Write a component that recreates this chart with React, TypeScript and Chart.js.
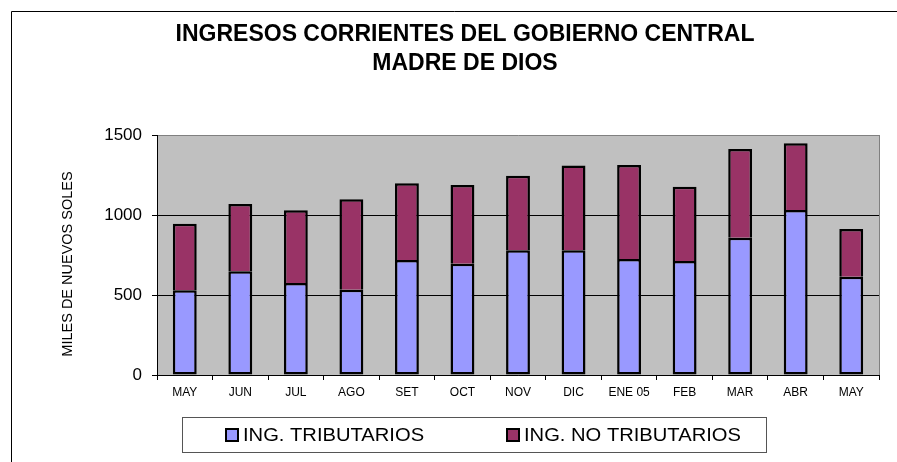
import React, { useEffect, useRef } from "react";
import { Chart, registerables } from "chart.js";

Chart.register(...registerables);

const categories = ["MAY", "JUN", "JUL", "AGO", "SET", "OCT", "NOV", "DIC", "ENE 05", "FEB", "MAR", "ABR", "MAY"];
const tributarios = [529, 648, 575, 533, 719, 696, 779, 779, 725, 712, 858, 1031, 614];
const noTributarios = [416, 421, 454, 565, 479, 491, 467, 531, 587, 465, 554, 417, 298];
const titleLines = ["INGRESOS CORRIENTES DEL GOBIERNO CENTRAL", "MADRE DE DIOS"];
const yTitle = "MILES DE NUEVOS SOLES";
const seriesNames = ["ING. TRIBUTARIOS", "ING. NO TRIBUTARIOS"];
const yMin = 0;
const yMax = 1500;
const yStep = 500;

const FONT = '"Liberation Sans", Arial, sans-serif';
const COL_TRIB = "#9999FF";
const COL_NO = "#993366";

const decor = {
  id: "decor",
  beforeDraw(chart: any) {
    const { ctx, chartArea: a, width, height } = chart;
    ctx.save();
    ctx.fillStyle = "#ffffff";
    ctx.fillRect(0, 0, width, height);
    ctx.fillStyle = "#C0C0C0";
    ctx.fillRect(a.left, a.top, a.right - a.left, a.bottom - a.top);
    ctx.restore();
  },
  afterDraw(chart: any) {
    const { ctx, chartArea: a, width, height } = chart;
    ctx.save();
    // outer frame (left + top)
    ctx.strokeStyle = "#000";
    ctx.lineWidth = 1;
    ctx.beginPath();
    ctx.moveTo(11.5, height);
    ctx.lineTo(11.5, 11.5);
    ctx.lineTo(width, 11.5);
    ctx.stroke();
    // plot right border
    ctx.strokeStyle = "#808080";
    ctx.beginPath();
    ctx.moveTo(Math.round(a.right) + 0.5, a.top);
    ctx.lineTo(Math.round(a.right) + 0.5, a.bottom);
    ctx.stroke();
    // title
    ctx.fillStyle = "#000";
    ctx.textAlign = "center";
    ctx.textBaseline = "alphabetic";
    ctx.font = `bold 23px ${FONT}`;
    ctx.fillText(titleLines[0], 465, 41);
    ctx.fillText(titleLines[1], 465, 70);
    // y title
    ctx.save();
    ctx.translate(68, 264);
    ctx.rotate(-Math.PI / 2);
    ctx.font = `14.5px ${FONT}`;
    ctx.textBaseline = "middle";
    ctx.fillText(yTitle, 0, 0);
    ctx.restore();
    // legend
    ctx.strokeStyle = "#555";
    ctx.lineWidth = 1;
    ctx.strokeRect(182.5, 417.5, 584, 35);
    const items = [
      { x: 226, color: COL_TRIB, text: seriesNames[0] },
      { x: 507, color: COL_NO, text: seriesNames[1] },
    ];
    for (const it of items) {
      ctx.fillStyle = it.color;
      ctx.fillRect(it.x, 429, 12, 12);
      ctx.strokeStyle = "#000";
      ctx.lineWidth = 2;
      ctx.strokeRect(it.x, 429, 12, 12);
      ctx.save();
      ctx.translate(it.x + 17, 436);
      ctx.scale(1.12, 1);
      ctx.font = `18px ${FONT}`;
      ctx.textAlign = "left";
      ctx.textBaseline = "middle";
      ctx.fillStyle = "#000";
      ctx.fillText(it.text, 0, 0);
      ctx.restore();
    }
    ctx.restore();
  },
};

export default function App() {
  const ref = useRef<HTMLCanvasElement>(null);
  useEffect(() => {
    document.body.style.margin = "0";
    const canvas = ref.current!;
    const chart = new Chart(canvas, {
      type: "bar",
      data: {
        labels: categories,
        datasets: [
          {
            label: seriesNames[0],
            data: tributarios,
            backgroundColor: COL_TRIB,
            borderColor: "#000",
            borderWidth: 2.5,
            borderSkipped: false,
            barPercentage: 0.43,
            categoryPercentage: 1,
          },
          {
            label: seriesNames[1],
            data: noTributarios,
            backgroundColor: COL_NO,
            borderColor: "#000",
            borderWidth: 2.5,
            borderSkipped: "start",
            barPercentage: 0.43,
            categoryPercentage: 1,
          },
        ],
      },
      options: {
        responsive: false,
        animation: false,
        layout: { padding: { top: 135, right: 18, left: 0, bottom: 0 } },
        plugins: {
          legend: { display: false },
          title: { display: false },
          tooltip: { enabled: false },
        },
        scales: {
          x: {
            stacked: true,
            grid: {
              offset: true,
              drawOnChartArea: false,
              drawTicks: true,
              tickLength: 5,
              color: "#000",
              tickColor: "#000",
            },
            border: { display: true, color: "#000", width: 1 },
            ticks: {
              color: "#000",
              font: { family: FONT, size: 12 },
              padding: 5,
              maxRotation: 0,
              autoSkip: false,
            },
            afterFit: (s: any) => {
              s.height = 87;
            },
          },
          y: {
            stacked: true,
            min: yMin,
            max: yMax,
            ticks: {
              stepSize: yStep,
              color: "#000",
              font: { family: FONT, size: 17 },
              padding: 10,
              callback: (v: any) => String(v),
            },
            grid: {
              color: (c: any) => (c.tick && c.tick.value === yMax ? "#808080" : "#000"),
              tickColor: "#000",
              tickLength: 5,
              drawTicks: true,
            },
            border: { display: true, color: "#000", width: 1 },
            afterFit: (s: any) => {
              s.width = 157;
            },
          },
        },
      },
      plugins: [decor],
    });
    return () => chart.destroy();
  }, []);
  return (
    <div style={{ width: 897, height: 462 }}>
      <canvas ref={ref} width={897} height={462} style={{ display: "block", width: 897, height: 462 }} />
    </div>
  );
}
